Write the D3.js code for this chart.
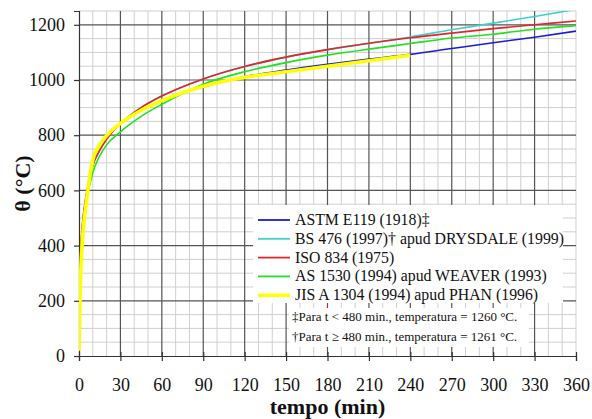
<!DOCTYPE html>
<html>
<head>
<meta charset="utf-8">
<script src="https://cdn.jsdelivr.net/npm/d3@7"></script>
<style>
  body { margin: 0; background: #fff; }
  svg text { font-family: "Liberation Serif", "DejaVu Serif", serif; fill: #111; }
</style>
</head>
<body>
<svg id="chart" width="592" height="419"></svg>
<script>
// times (min) at which the curves were read
var tempo = [0, 1, 2, 3, 5, 10, 15, 20, 30, 45, 60, 90, 120, 150, 180, 210, 240, 270, 300, 330, 360];

// temperatures (°C)
var astm   = [20, 250, 370, 450, 538, 704, 760, 795, 843, 890, 927, 975, 1012, 1036, 1057, 1076, 1093, 1114, 1135, 1155, 1177];
var bs476  = [20, 349, 445, 502, 576, 690, 745, 785, 842, 900, 942, 1004, 1049, 1083, 1110, 1133, 1156, 1182, 1206, 1230, 1256];
var iso834 = [20, 349, 445, 502, 576, 690, 745, 785, 842, 900, 942, 1004, 1049, 1083, 1110, 1133, 1153, 1170, 1186, 1200, 1214];
var as1530 = [20, 320, 420, 480, 550, 665, 725, 765, 812, 868, 912, 985, 1030, 1063, 1090, 1112, 1132, 1152, 1166, 1184, 1197];
var jis    = [20, 260, 380, 455, 545, 710, 765, 798, 843, 890, 925, 977, 1010, 1030, 1050, 1070, 1090, null, null, null, null];

var seriesNames = [
  'ASTM E119 (1918)\u2021',
  'BS 476 (1997)\u2020 apud DRYSDALE (1999)',
  'ISO 834 (1975)',
  'AS 1530 (1994) apud WEAVER (1993)',
  'JIS A 1304 (1994) apud PHAN (1996)'
];
var seriesValues = [astm, bs476, iso834, as1530, jis];
var seriesColors = ['#1c1cd6', '#3fd0cc', '#e0262a', '#22e022', '#ffff00'];
var seriesWidths = [1.6, 1.6, 1.6, 1.6, 3.6];

var xTicks = d3.range(0, 361, 30);
var yTicks = d3.range(0, 1201, 200);
var footnotes = [
  '\u2021Para t < 480 min., temperatura = 1260 \u00b0C.',
  '\u2020Para t \u2265 480 min., temperatura = 1261 \u00b0C.'
];

var serif = '"Liberation Serif", "DejaVu Serif", serif';
var margin = { top: 11, right: 16, bottom: 63, left: 79 };
var svg = d3.select('#chart');
var width = +svg.attr('width') - margin.left - margin.right,
    height = +svg.attr('height') - margin.top - margin.bottom;

var x = d3.scaleLinear().domain([0, 360]).range([0, width]);
var y = d3.scaleLinear().domain([0, 1250]).range([height, 0]);

var g = svg.append('g')
  .attr('transform', 'translate(' + margin.left + ',' + margin.top + ')');

// minor grid
g.append('g').selectAll('line')
  .data(d3.range(10, 361, 10).filter(function (d) { return d % 30 !== 0 || d === 360; }))
  .enter().append('line')
    .attr('x1', x).attr('x2', x)
    .attr('y1', 0).attr('y2', height)
    .attr('stroke', '#cfcfcf').attr('stroke-width', 1);

g.append('g').selectAll('line')
  .data(d3.range(50, 1251, 50).filter(function (d) { return d % 200 !== 0; }))
  .enter().append('line')
    .attr('x1', 0).attr('x2', width)
    .attr('y1', y).attr('y2', y)
    .attr('stroke', '#cfcfcf').attr('stroke-width', 1);

// major grid
g.append('g').selectAll('line')
  .data(xTicks.filter(function (d) { return d > 0 && d < 360; }))
  .enter().append('line')
    .attr('x1', x).attr('x2', x)
    .attr('y1', 0).attr('y2', height)
    .attr('stroke', '#555').attr('stroke-width', 1.2);

g.append('g').selectAll('line')
  .data(yTicks.filter(function (d) { return d > 0; }))
  .enter().append('line')
    .attr('x1', 0).attr('x2', width)
    .attr('y1', y).attr('y2', y)
    .attr('stroke', '#555').attr('stroke-width', 1.2);

// axes
var xAxis = g.append('g')
  .attr('transform', 'translate(0,' + height + ')')
  .call(d3.axisBottom(x).tickValues(xTicks).tickFormat(d3.format('d'))
    .tickSize(5).tickPadding(17));
var yAxis = g.append('g')
  .call(d3.axisLeft(y).tickValues(yTicks).tickFormat(d3.format('d'))
    .tickSize(5).tickPadding(9));

[xAxis, yAxis].forEach(function (a) {
  a.attr('font-family', serif).attr('font-size', 18);
  a.select('.domain').attr('stroke', '#333').attr('stroke-width', 1.2);
  a.selectAll('.tick line').attr('stroke', '#333').attr('stroke-width', 1.2);
  a.selectAll('.tick text')
    .style('font-family', serif)
    .style('font-size', '18px')
    .attr('fill', '#111');
});
xAxis.selectAll('.tick line').attr('y1', -4);

// curves
svg.append('clipPath').attr('id', 'plot-clip')
  .append('rect').attr('width', width).attr('height', height);

var line = d3.line()
  .defined(function (d) { return d[1] !== null; })
  .x(function (d) { return x(d[0]); })
  .y(function (d) { return y(d[1]); })
  .curve(d3.curveMonotoneX);

g.append('g').attr('clip-path', 'url(#plot-clip)')
  .selectAll('path')
  .data(seriesValues)
  .enter().append('path')
    .attr('d', function (vals) {
      return line(tempo.map(function (t, i) { return [t, vals[i]]; }));
    })
    .attr('fill', 'none')
    .attr('stroke', function (d, i) { return seriesColors[i]; })
    .attr('stroke-width', function (d, i) { return seriesWidths[i]; })
    .attr('stroke-linejoin', 'round');

// legend
var legend = svg.append('g').attr('transform', 'translate(253,205)');
legend.append('rect')
  .attr('width', 310).attr('height', 98)
  .attr('fill', '#fff');

var item = legend.selectAll('g.item')
  .data(seriesNames)
  .enter().append('g')
    .attr('class', 'item')
    .attr('transform', function (d, i) { return 'translate(0,' + (15 + i * 18.8) + ')'; });

item.append('line')
  .attr('x1', 5).attr('x2', 37)
  .attr('stroke', function (d, i) { return seriesColors[i]; })
  .attr('stroke-width', function (d, i) { return i === 4 ? 3.4 : 1.8; });

item.append('text')
  .attr('x', 42).attr('y', 5)
  .style('font-size', '15.8px')
  .text(function (d) { return d; });

// footnotes
var notes = svg.append('g').attr('transform', 'translate(289,308)');
notes.append('rect')
  .attr('width', 240).attr('height', 39)
  .attr('fill', '#fff');
notes.selectAll('text')
  .data(footnotes)
  .enter().append('text')
    .attr('x', 3)
    .attr('y', function (d, i) { return 13 + i * 20; })
    .style('font-size', '13px')
    .text(function (d) { return d; });

// axis titles
svg.append('text')
  .attr('x', margin.left + width / 2)
  .attr('y', 414)
  .attr('text-anchor', 'middle')
  .style('font-size', '22px')
  .style('font-weight', 'bold')
  .text('tempo (min)');

svg.append('text')
  .attr('transform', 'translate(30,' + (margin.top + height / 2) + ') rotate(-90)')
  .attr('text-anchor', 'middle')
  .style('font-size', '22px')
  .style('font-weight', 'bold')
  .text('\u03b8 (\u00b0C)');
</script>
</body>
</html>
